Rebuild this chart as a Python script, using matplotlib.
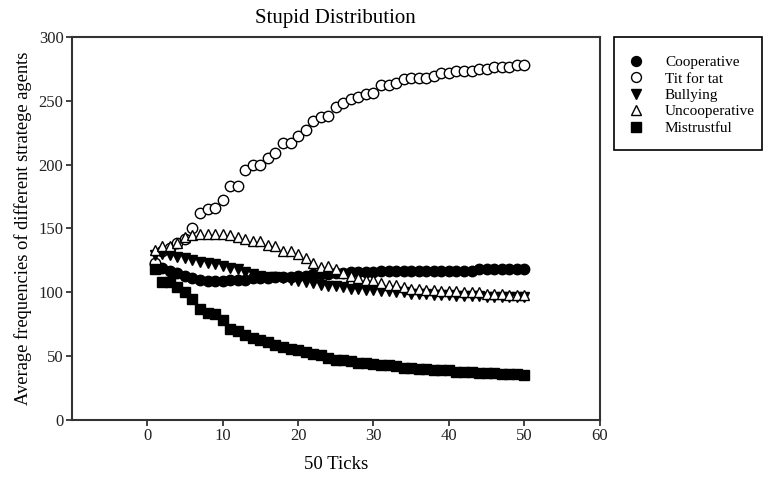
import numpy as np
import matplotlib
matplotlib.use("Agg")
import matplotlib.pyplot as plt
from matplotlib.patches import Rectangle

plt.rcParams['font.family'] = ['Liberation Serif', 'DejaVu Serif']

ticks = list(range(1, 51))

cooperative = [122, 119, 117, 115, 113, 111, 110, 109, 109, 109,
               110, 110, 110, 111, 111, 111, 112, 112, 112, 113,
               113, 114, 114, 114, 115, 115, 116, 116, 116, 116,
               117, 117, 117, 117, 117, 117, 117, 117, 117, 117,
               117, 117, 117, 118, 118, 118, 118, 118, 118, 118]
tit_for_tat = [123, 132, 135, 139, 142, 150, 162, 165, 166, 172,
               183, 183, 196, 200, 200, 205, 209, 217, 217, 222,
               227, 234, 237, 238, 245, 248, 251, 253, 255, 256,
               262, 262, 264, 267, 268, 268, 268, 269, 272, 272,
               273, 273, 273, 275, 275, 276, 276, 276, 278, 278]
bullying = [129, 130, 129, 128, 127, 125, 124, 123, 122, 121,
            119, 118, 116, 114, 113, 112, 112, 111, 110, 109,
            108, 107, 106, 105, 105, 104, 103, 103, 102, 102,
            101, 101, 100, 100, 99, 99, 99, 98, 98, 98,
            97, 97, 97, 97, 96, 96, 96, 96, 96, 96]
uncooperative = [133, 136, 136, 139, 143, 145, 146, 146, 146, 146,
                 145, 143, 142, 140, 140, 137, 136, 132, 132, 130,
                 127, 123, 120, 121, 118, 115, 113, 111, 110, 110,
                 107, 106, 106, 104, 103, 103, 102, 102, 101, 101,
                 101, 100, 100, 100, 99, 99, 99, 98, 98, 98]
mistrustful = [118, 108, 108, 104, 100, 95, 87, 84, 83, 78,
               71, 70, 67, 64, 63, 61, 59, 57, 56, 55,
               53, 52, 51, 49, 47, 47, 46, 45, 45, 44,
               43, 43, 42, 41, 41, 40, 40, 39, 39, 39,
               38, 38, 38, 37, 37, 37, 36, 36, 36, 35]

fig = plt.figure(figsize=(7.64, 4.78), dpi=100)
ax = fig.add_axes([0.094, 0.121, 0.691, 0.802])

ms = 7.5
ax.plot(ticks, cooperative, 'o', color='black', ms=ms, label='Cooperative')
ax.plot(ticks, tit_for_tat, 'o', mfc='white', mec='black', mew=1.0, ms=ms, label='Tit for tat')
ax.plot(ticks, bullying, 'v', color='black', ms=ms, label='Bullying')
ax.plot(ticks, uncooperative, '^', mfc='white', mec='black', mew=1.0, ms=ms, label='Uncooperative')
ax.plot(ticks, mistrustful, 's', color='black', ms=ms - 0.5, label='Mistrustful')

ax.set_xlim(-10, 60)
ax.set_ylim(0, 300)
ax.set_xticks(range(0, 61, 10))
ax.set_yticks(range(0, 301, 50))
ax.tick_params(direction='out', length=4, width=1.2, labelsize=12, colors='#222222', pad=2)
for s in ax.spines.values():
    s.set_linewidth(1.5)
    s.set_color('#333333')

ax.set_title("Stupid Distribution", fontsize=15, pad=10)
ax.set_xlabel("50 Ticks", fontsize=13.5, labelpad=8)
ax.set_ylabel("Average frequencies of different stratege agents", fontsize=13.3, labelpad=5)

# legend box drawn separately so the padding can differ per side
fig.patches.append(Rectangle((0.8037, 0.6862), 0.1937, 0.2364, transform=fig.transFigure,
                             fill=False, edgecolor='black', linewidth=1.2))
fig.legend(loc='upper left', bbox_to_anchor=(0.823, 0.884), borderaxespad=0,
           fontsize=11, frameon=False, handlelength=1.0, handletextpad=1.37,
           labelspacing=0.18, borderpad=0, markerscale=0.95)

fig.savefig("out.png", dpi=100)
